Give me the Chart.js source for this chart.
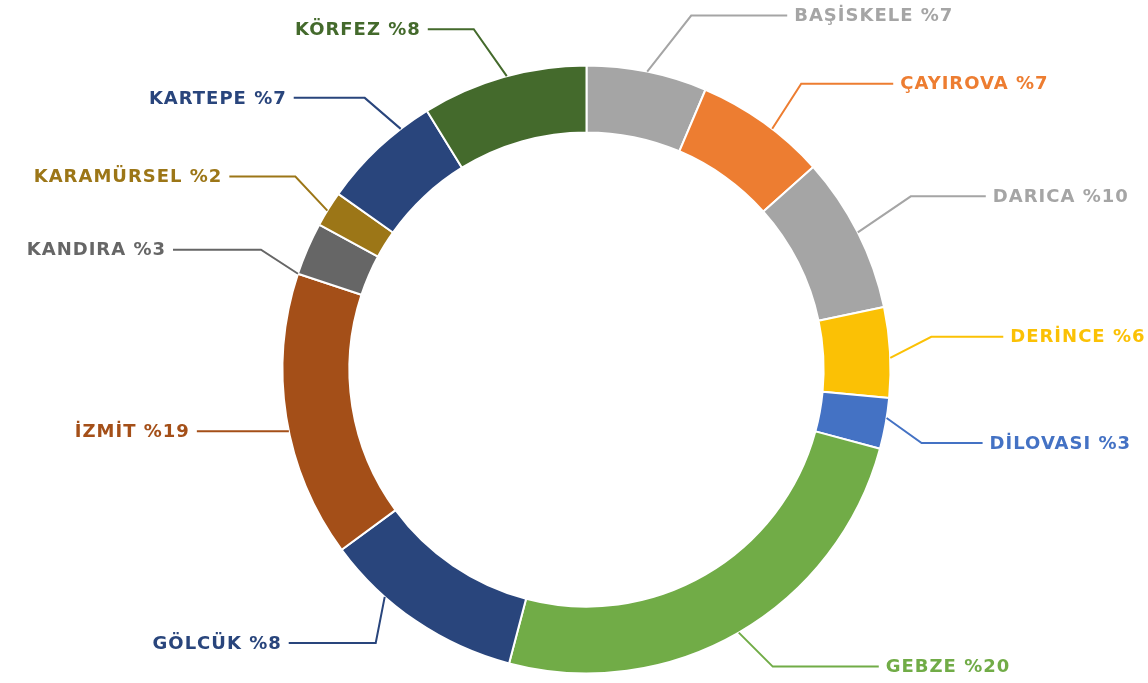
<!DOCTYPE html>
<html>
<head>
<meta charset="utf-8">
<script src="https://cdn.jsdelivr.net/npm/chart.js@4/dist/chart.umd.min.js"></script>
<style>
  html, body { margin: 0; padding: 0; background: #fff; }
  #wrap { width: 1148px; height: 683px; }
</style>
</head>
<body>
<div id="wrap"><canvas id="myChart"></canvas></div>
<script>
// districts, clockwise from 12 o'clock
const districts = ['BAŞİSKELE', 'ÇAYIROVA', 'DARICA', 'DERİNCE', 'DİLOVASI', 'GEBZE',
  'GÖLCÜK', 'İZMİT', 'KANDIRA', 'KARAMÜRSEL', 'KARTEPE', 'KÖRFEZ'];
// slice sizes
const shares = [6.4, 7.0, 8.3, 4.8, 2.7, 24.9, 10.8, 15.2, 2.8, 1.9, 6.4, 8.8];
// percentages printed in the labels
const shareLabels = ['7', '7', '10', '6', '3', '20', '8', '19', '3', '2', '7', '8'];

const colors = ['#A5A5A5', '#ED7D31', '#A5A5A5', '#FBC105', '#4472C4', '#71AC47',
  '#29457C', '#A44F18', '#666666', '#9C7617', '#29457C', '#446A2C'];

// leader lines: [position along arc, elbow dx, elbow dy, horizontal length, side]
const leaders = [
  [0.50, 44, -56, 96, 1],
  [0.58, 29, -45, 92, 1],
  [0.50, 53, -36, 75, 1],
  [0.56, 41, -21, 72, 1],
  [0.39, 35, 25, 61, 1],
  [0.50, 34, 34, 106, 1],
  [0.69, -9, 46, 87, -1],
  [0.45, 0, 0, 92, -1],
  [0.00, -37, -24, 88, -1],
  [0.45, -32, -34, 66, -1],
  [0.74, -36, -31, 71, -1],
  [0.52, -33, -47, 46, -1]
];

const leaderLabels = {
  id: 'leaderLabels',
  afterDatasetsDraw(chart) {
    const ctx = chart.ctx;
    const meta = chart.getDatasetMeta(0);
    ctx.save();
    ctx.font = 'bold 18px "DejaVu Sans", sans-serif';
    ctx.letterSpacing = '1px';
    ctx.textBaseline = 'middle';
    ctx.lineWidth = 2;
    meta.data.forEach((arc, i) => {
      const p = arc.getProps(['x', 'y', 'startAngle', 'endAngle', 'outerRadius'], true);
      const [t, dx, dy, len, side] = leaders[i];
      const a = p.startAngle + t * (p.endAngle - p.startAngle);
      const sx = p.x + Math.cos(a) * p.outerRadius;
      const sy = p.y + Math.sin(a) * p.outerRadius;
      const ex = sx + dx, ey = sy + dy;
      const hx = ex + side * len;
      ctx.strokeStyle = colors[i];
      ctx.beginPath();
      ctx.moveTo(sx, sy);
      ctx.lineTo(ex, ey);
      ctx.lineTo(hx, ey);
      ctx.stroke();
      ctx.fillStyle = colors[i];
      ctx.textAlign = side > 0 ? 'left' : 'right';
      ctx.fillText(districts[i] + ' %' + shareLabels[i], hx + side * 7, ey + 1);
    });
    ctx.restore();
  }
};

new Chart(document.getElementById('myChart'), {
  type: 'doughnut',
  data: {
    labels: districts,
    datasets: [{
      data: shares,
      backgroundColor: colors,
      borderColor: '#ffffff',
      borderWidth: 2
    }]
  },
  options: {
    responsive: true,
    maintainAspectRatio: false,
    animation: false,
    radius: 304,
    cutout: '78%',
    layout: { padding: { left: 25, top: 56 } },
    plugins: {
      legend: { display: false },
      tooltip: { enabled: false }
    }
  },
  plugins: [leaderLabels]
});
</script>
</body>
</html>
